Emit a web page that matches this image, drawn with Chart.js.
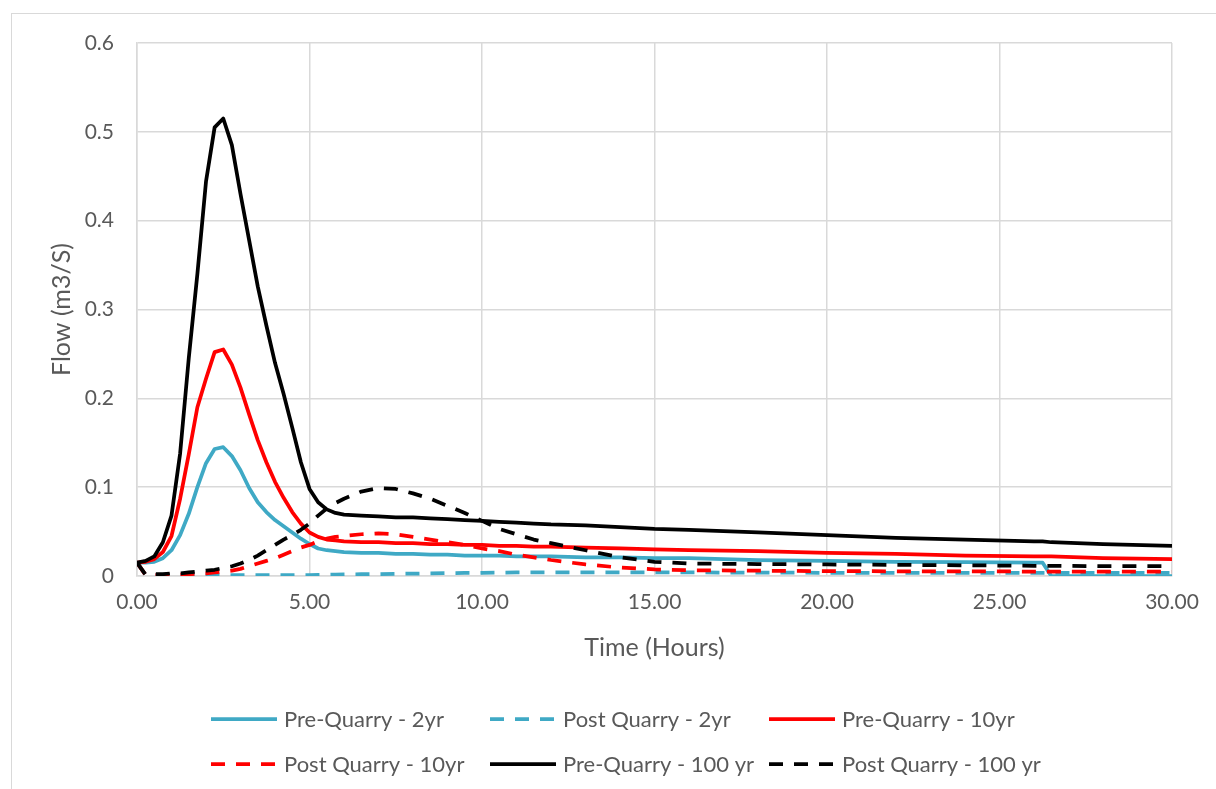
<!DOCTYPE html>
<html>
<head>
<meta charset="utf-8">
<title>Flow hydrographs</title>
<script src="https://cdn.jsdelivr.net/npm/chart.js@4.4.1/dist/chart.umd.min.js"></script>
<style>
  html, body { margin: 0; padding: 0; background: #ffffff; overflow: hidden; }
  #frame { position: absolute; left: 11px; top: 13px; width: 1240px; height: 820px;
           border: 1px solid #d9d9d9; box-sizing: border-box; }
  #wrap { position: absolute; left: 0; top: 0; width: 1216px; height: 789px; }
</style>
</head>
<body>
<div id="frame"></div>
<div id="wrap"><canvas id="c" width="1216" height="789"></canvas></div>
<script>
// Time (hours) at which flows were sampled
const times = [0, 0.25, 0.5, 0.75, 1, 1.25, 1.5, 1.75, 2, 2.25, 2.5, 2.75, 3, 3.25, 3.5, 3.75,
  4, 4.25, 4.5, 4.75, 5, 5.25, 5.5, 5.75, 6, 6.5, 7, 7.5, 8, 8.5, 9, 9.5, 10, 10.5, 11, 11.5,
  12, 13, 14, 15, 16, 18, 20, 22, 24, 26, 26.25, 26.5, 28, 30];

// Flow (m3/s) for each storm
const preQuarry2yr = [0.015, 0.015, 0.016, 0.020, 0.029, 0.046, 0.070, 0.100, 0.127, 0.143, 0.145, 0.135,
  0.119, 0.099, 0.083, 0.072, 0.063, 0.056, 0.049, 0.042, 0.036, 0.031, 0.029, 0.028, 0.027,
  0.026, 0.026, 0.025, 0.025, 0.024, 0.024, 0.023, 0.023, 0.023, 0.022, 0.022, 0.022,
  0.021, 0.021, 0.020, 0.020, 0.018, 0.017, 0.016, 0.0155, 0.015, 0.015, 0, 0, 0];

const postQuarry2yr = [0.015, 0.001, 0.001, 0.001, 0.001, 0.001, 0.001, 0.001, 0.001, 0.001, 0.001, 0.001,
  0.001, 0.001, 0.001, 0.001, 0.001, 0.001, 0.001, 0.001, 0.001, 0.0012, 0.0014, 0.0016, 0.0018,
  0.002, 0.0022, 0.0025, 0.0027, 0.003, 0.0032, 0.0034, 0.0036, 0.0038, 0.004, 0.004, 0.004,
  0.004, 0.004, 0.004, 0.004, 0.0038, 0.0036, 0.0035, 0.0035, 0.0035, 0.0035, 0.0035, 0.0035, 0.0035];

const preQuarry10yr = [0.015, 0.016, 0.019, 0.027, 0.045, 0.087, 0.137, 0.190, 0.222, 0.252, 0.255, 0.238,
  0.212, 0.182, 0.153, 0.128, 0.106, 0.088, 0.072, 0.059, 0.049, 0.044, 0.041, 0.040, 0.039,
  0.038, 0.038, 0.037, 0.037, 0.036, 0.036, 0.035, 0.035, 0.034, 0.034, 0.033, 0.033,
  0.032, 0.031, 0.030, 0.029, 0.028, 0.026, 0.025, 0.023, 0.022, 0.022, 0.022, 0.020, 0.019];

const postQuarry10yr = [0.015, 0.001, 0.001, 0.001, 0.001, 0.0015, 0.002, 0.0025, 0.003, 0.004, 0.005, 0.006,
  0.008, 0.011, 0.014, 0.017, 0.020, 0.024, 0.028, 0.032, 0.035, 0.039, 0.042, 0.044, 0.045,
  0.047, 0.048, 0.047, 0.044, 0.041, 0.038, 0.035, 0.031, 0.028, 0.024, 0.021, 0.018,
  0.013, 0.0095, 0.0075, 0.0065, 0.006, 0.0055, 0.0053, 0.0052, 0.005, 0.005, 0.005, 0.005, 0.005];

const preQuarry100yr = [0.015, 0.017, 0.022, 0.038, 0.068, 0.138, 0.245, 0.340, 0.444, 0.505, 0.515, 0.485,
  0.430, 0.378, 0.326, 0.282, 0.240, 0.205, 0.167, 0.128, 0.098, 0.083, 0.075, 0.071, 0.069,
  0.068, 0.067, 0.066, 0.066, 0.065, 0.064, 0.063, 0.062, 0.061, 0.060, 0.059, 0.058,
  0.057, 0.055, 0.053, 0.052, 0.049, 0.046, 0.043, 0.041, 0.039, 0.039, 0.038, 0.036, 0.034];

const postQuarry100yr = [0.015, 0.0015, 0.002, 0.002, 0.003, 0.003, 0.004, 0.005, 0.006, 0.007, 0.009, 0.011,
  0.014, 0.018, 0.023, 0.029, 0.035, 0.041, 0.046, 0.052, 0.059, 0.068, 0.076, 0.082, 0.087,
  0.095, 0.099, 0.098, 0.093, 0.087, 0.079, 0.071, 0.062, 0.053, 0.047, 0.041, 0.037,
  0.029, 0.021, 0.016, 0.014, 0.0135, 0.013, 0.0125, 0.012, 0.0115, 0.0115, 0.0115, 0.011, 0.011];

const seriesNames = ['Pre-Quarry - 2yr', 'Post Quarry - 2yr', 'Pre-Quarry - 10yr',
  'Post Quarry - 10yr', 'Pre-Quarry - 100 yr', 'Post Quarry - 100 yr'];
const seriesValues = [preQuarry2yr, postQuarry2yr, preQuarry10yr, postQuarry10yr, preQuarry100yr, postQuarry100yr];
const seriesColors = ['#3fa9c5', '#3fa9c5', '#ff0000', '#ff0000', '#000000', '#000000'];
const seriesDashed = [false, true, false, true, false, true];

// Axis ticks
const xTicks = [0, 5, 10, 15, 20, 25, 30];
const yTicks = [0, 0.1, 0.2, 0.3, 0.4, 0.5, 0.6];

const FONT = 'Lato, "Open Sans", sans-serif';
const TEXT = '#595959';
const GRID = '#d9d9d9';
const DASH = [14, 11];
const LINE_W = 3.75;

const datasets = seriesNames.map((name, i) => ({
  label: name,
  data: times.map((t, k) => ({ x: t, y: seriesValues[i][k] })),
  borderColor: seriesColors[i],
  backgroundColor: seriesColors[i],
  borderWidth: LINE_W,
  borderDash: seriesDashed[i] ? DASH : [],
  borderJoinStyle: 'round',
  pointRadius: 0,
  tension: 0,
  fill: false,
  order: seriesNames.length - i
}));

// Three-column legend under the plot
const gridLegend = {
  id: 'gridLegend',
  afterDraw(chart) {
    const ctx = chart.ctx;
    const x0 = 211, colW = 279, y0 = 719, rowH = 45, sample = 66;
    ctx.save();
    chart.data.datasets.forEach((d, i) => {
      const x = x0 + (i % 3) * colW;
      const y = y0 + Math.floor(i / 3) * rowH;
      ctx.beginPath();
      ctx.setLineDash(d.borderDash);
      ctx.lineWidth = d.borderWidth;
      ctx.strokeStyle = d.borderColor;
      ctx.moveTo(x, y);
      ctx.lineTo(x + sample, y);
      ctx.stroke();
      ctx.setLineDash([]);
      ctx.fillStyle = TEXT;
      ctx.font = '22px ' + FONT;
      ctx.textBaseline = 'middle';
      ctx.textAlign = 'left';
      ctx.fillText(d.label, x + sample + 7, y + 1);
    });
    ctx.restore();
  }
};

new Chart(document.getElementById('c'), {
  type: 'line',
  data: { datasets },
  plugins: [gridLegend],
  options: {
    responsive: false,
    animation: false,
    devicePixelRatio: 1,
    layout: { padding: { left: 0, right: 44, top: 43, bottom: 126 } },
    plugins: { legend: { display: false }, tooltip: { enabled: false }, title: { display: false } },
    scales: {
      x: {
        type: 'linear',
        min: xTicks[0],
        max: xTicks[xTicks.length - 1],
        afterBuildTicks: s => { s.ticks = xTicks.map(v => ({ value: v })); },
        afterFit: s => { s.height = 87; },
        grid: { color: GRID, lineWidth: 1.5, drawTicks: false },
        border: { color: GRID, width: 1.5 },
        ticks: { color: TEXT, font: { family: FONT, size: 21 }, padding: 14, maxRotation: 0,
                 callback: v => v.toFixed(2) },
        title: { display: true, text: 'Time (Hours)', color: TEXT,
                 font: { family: FONT, size: 25 }, padding: { top: 0, bottom: 0 } }
      },
      y: {
        type: 'linear',
        min: yTicks[0],
        max: yTicks[yTicks.length - 1],
        afterBuildTicks: s => { s.ticks = yTicks.map(v => ({ value: v })); },
        afterFit: s => { s.width = 137; },
        grid: { color: GRID, lineWidth: 1.5, drawTicks: false },
        border: { color: GRID, width: 1.5 },
        ticks: { color: TEXT, font: { family: FONT, size: 21 }, padding: 23,
                 callback: v => (v === 0 ? '0' : v.toFixed(1)) },
        title: { display: true, text: 'Flow (m3/S)', color: TEXT,
                 font: { family: FONT, size: 25 }, padding: { top: 47, bottom: 0 } }
      }
    }
  }
});
</script>
</body>
</html>
